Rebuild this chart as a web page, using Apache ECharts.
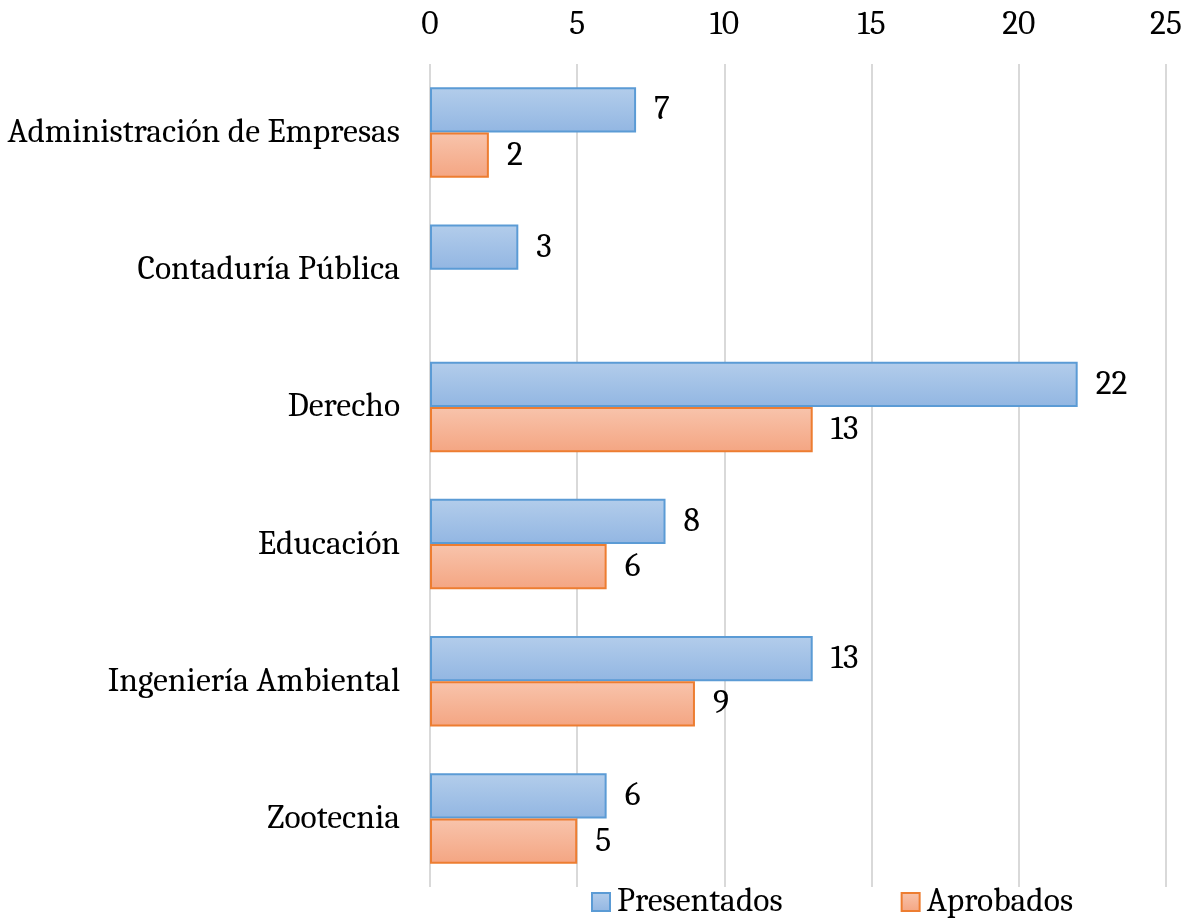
<!DOCTYPE html>
<html>
<head>
<meta charset="utf-8">
<script src="https://cdn.jsdelivr.net/npm/echarts@6/dist/echarts.min.js"></script>
<style>
  html, body { margin: 0; padding: 0; background: #fff; }
  #chart { width: 1186px; height: 920px; }
</style>
</head>
<body>
<div id="chart"></div>
<script>
  const categories = [
    'Administración de Empresas',
    'Contaduría Pública',
    'Derecho',
    'Educación',
    'Ingeniería Ambiental',
    'Zootecnia'
  ];
  const presentados = [7, 3, 22, 8, 13, 6];
  const aprobados = [2, null, 13, 6, 9, 5];
  const xTicks = [0, 5, 10, 15, 20, 25];

  const font = 'Cambria, "DejaVu Serif", serif';
  const fs = 33.6;

  function grad(top, bottom) {
    return new echarts.graphic.LinearGradient(0, 0, 0, 1, [
      { offset: 0, color: top },
      { offset: 1, color: bottom }
    ]);
  }

  const labelStyle = {
    show: true,
    position: 'right',
    distance: 18,
    color: '#000',
    fontFamily: font,
    fontSize: fs
  };

  const option = {
    animation: false,
    textStyle: { fontFamily: font },
    grid: { left: 430, right: 20, top: 64, bottom: 33 },
    legend: {
      top: 880,
      left: 586,
      icon: 'rect',
      itemWidth: 18,
      itemHeight: 18,
      itemGap: 118,
      textStyle: { fontFamily: font, fontSize: fs, color: '#000', padding: [0, 0, 0, 2] },
      data: ['Presentados', 'Aprobados']
    },
    xAxis: {
      type: 'value',
      position: 'top',
      min: xTicks[0],
      max: xTicks[xTicks.length - 1],
      interval: 5,
      axisLine: { show: false },
      axisTick: { show: false },
      axisLabel: { color: '#000', fontFamily: font, fontSize: fs, margin: 22 },
      splitLine: { lineStyle: { color: '#d9d9d9', width: 2 } }
    },
    yAxis: {
      type: 'category',
      inverse: true,
      data: categories,
      axisLine: { show: false },
      axisTick: { show: false },
      axisLabel: { color: '#000', fontFamily: font, fontSize: fs, margin: 30 }
    },
    series: [
      {
        name: 'Presentados',
        type: 'bar',
        data: presentados,
        barGap: 0,
        barCategoryGap: '34%',
        itemStyle: {
          color: grad('#b3cdeb', '#92b6e2'),
          borderColor: '#5b9bd5',
          borderWidth: 2
        },
        label: labelStyle
      },
      {
        name: 'Aprobados',
        type: 'bar',
        data: aprobados,
        barGap: 0,
        barCategoryGap: '34%',
        itemStyle: {
          color: grad('#f8c4ac', '#f4a582'),
          borderColor: '#ed7d31',
          borderWidth: 2
        },
        label: labelStyle
      }
    ]
  };

  const myChart = echarts.init(document.getElementById('chart'));
  myChart.setOption(option);
</script>
</body>
</html>
